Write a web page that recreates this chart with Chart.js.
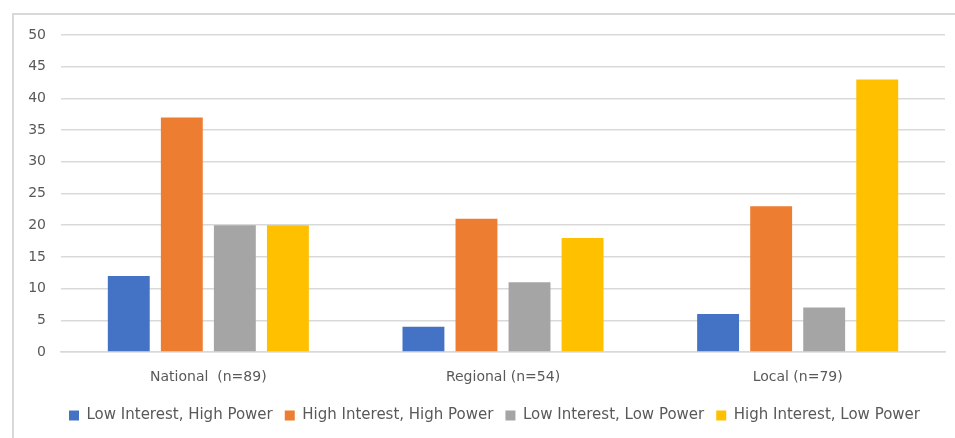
<!DOCTYPE html>
<html>
<head>
<meta charset="utf-8">
<script src="https://cdn.jsdelivr.net/npm/chart.js@4/dist/chart.umd.min.js"></script>
<style>
  html, body { margin: 0; padding: 0; background: #fff; overflow: hidden; }
  #wrap { position: absolute; left: 0; top: 0; width: 955px; height: 438px; }
</style>
</head>
<body>
<div id="wrap"><canvas id="c" width="955" height="438"></canvas></div>
<script>
const categories = ["National  (n=89)", "Regional (n=54)", "Local (n=79)"];
const seriesNames = ["Low Interest, High Power", "High Interest, High Power", "Low Interest, Low Power", "High Interest, Low Power"];
const lowInterestHighPower = [12, 4, 6];
const highInterestHighPower = [37, 21, 23];
const lowInterestLowPower = [20, 11, 7];
const highInterestLowPower = [20, 18, 43];
const yTicks = [0, 5, 10, 15, 20, 25, 30, 35, 40, 45, 50];

const colors = ["#4472C4", "#ED7D31", "#A5A5A5", "#FFC000"];
const values = [lowInterestHighPower, highInterestHighPower, lowInterestLowPower, highInterestLowPower];
const FONT = "'DejaVu Sans', sans-serif";
const TXT = "#595959";

const framePlugin = {
  id: 'frame',
  beforeDraw(chart) {
    const ctx = chart.ctx;
    ctx.save();
    ctx.strokeStyle = '#d9d9d9';
    ctx.lineWidth = 2;
    ctx.beginPath();
    ctx.moveTo(13, chart.height);
    ctx.lineTo(13, 14);
    ctx.lineTo(chart.width, 14);
    ctx.stroke();
    ctx.restore();
  }
};

// shift the legend block to the right so it is centred like the reference
const legendShift = {
  id: 'legendShift',
  afterLayout(chart) {
    const lg = chart.legend;
    if (lg) { lg.left += 22; lg.right += 22; }
  }
};

new Chart(document.getElementById('c'), {
  type: 'bar',
  data: {
    labels: categories,
    datasets: seriesNames.map((n, i) => ({
      label: n,
      data: values[i],
      backgroundColor: colors[i],
      borderWidth: 0,
      categoryPercentage: 0.72,
      barPercentage: 0.79
    }))
  },
  plugins: [framePlugin, legendShift],
  options: {
    responsive: false,
    animation: false,
    devicePixelRatio: 1,
    layout: { padding: { top: 35, right: 10, bottom: 5, left: 0 } },
    plugins: {
      tooltip: { enabled: false },
      legend: {
        position: 'bottom',
        labels: {
          boxWidth: 10, boxHeight: 10, padding: 12,
          color: TXT, font: { family: FONT, size: 15 }
        }
      }
    },
    scales: {
      x: {
        grid: { display: false, drawTicks: false },
        border: { display: true, color: '#d9d9d9', width: 1.5 },
        ticks: { color: TXT, font: { family: FONT, size: 14 }, padding: 17 },
        afterFit: s => { s.height = 44; }
      },
      y: {
        min: 0, max: 50,
        afterBuildTicks: s => { s.ticks = yTicks.map(v => ({ value: v })); },
        grid: { color: '#d9d9d9', lineWidth: 1.5, drawTicks: false },
        border: { display: false },
        ticks: { color: TXT, font: { family: FONT, size: 14 }, padding: 15 },
        afterFit: s => { s.width = 61; }
      }
    }
  }
});
</script>
</body>
</html>
